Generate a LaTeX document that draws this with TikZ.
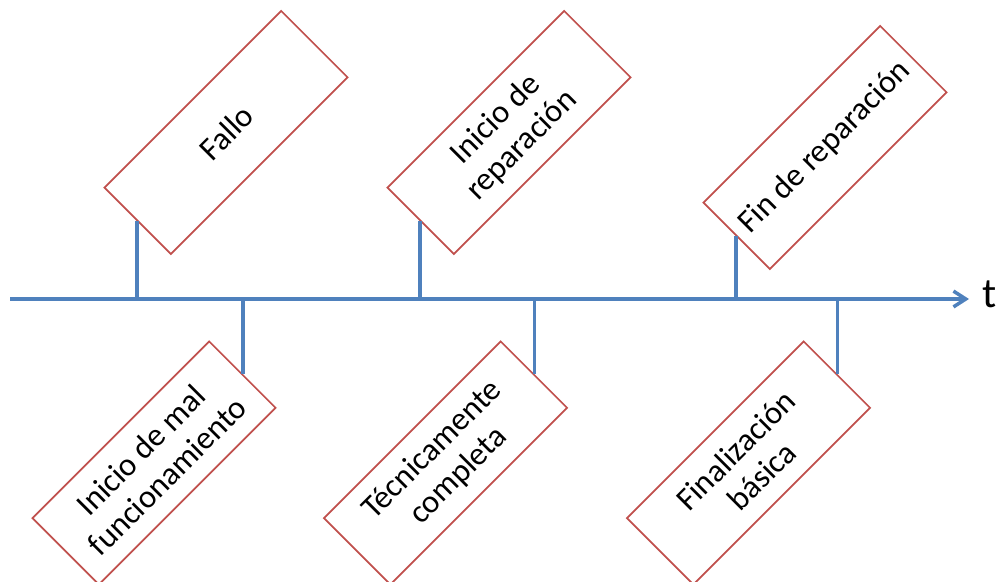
\documentclass[tikz,border=0pt]{standalone}
\usepackage{fontspec}
\setmainfont{Carlito}
\usepackage{tikz}
\usetikzlibrary{arrows.meta}
\usetikzlibrary{positioning}
\definecolor{azul}{RGB}{79,129,189}
\definecolor{rojo}{RGB}{192,80,77}
\tikzset{
  evento/.style = {rectangle, draw=rojo, line width=1pt, rotate=45,
    align=center, inner sep=0pt, minimum width=5cm, minimum height=1.88cm,
    font=\fontsize{18.5}{21}\selectfont},% caja de un evento
  eje/.style = {draw=azul, line width=2pt,
    -{Straight Barb[length=7pt,width=9pt]}},% eje del tiempo
  marca/.style = {draw=azul, line width=2pt}% union caja-eje
}

\begin{document}
\begin{tikzpicture}[x=0.02cm,y=0.02cm]
\useasboundingbox (0,0) rectangle (1002,582);
\coordinate (o) at (10,283);
\coordinate (fin) at (969,283);
\draw[eje] (o) -- (fin);
\node[anchor=base west, inner sep=0pt, font=\fontsize{24}{28}\selectfont] (t) at (982,274) {t};

% eventos arriba
\node [evento] (fallo) at (226,449.5) {Fallo};
\node [evento] (inirep) at (509,449.5) {Inicio de\\reparación};
\node [evento] (finrep) at (825,434.5) {Fin de reparación};
% eventos abajo
\node [evento] (mal) at (154,119) {Inicio de mal\\funcionamiento};
\node [evento] (tecn) at (445.5,119) {Técnicamente\\completa};
\node [evento] (final) at (748.5,119) {Finalización\\básica};

\foreach \n in {fallo,inirep,finrep}
  \draw[marca] (\n.west) -- (\n.west |- o);
\foreach \n in {mal,tecn,final}
  \draw[marca] (\n.east) -- (\n.east |- o);
\end{tikzpicture}
\end{document}
